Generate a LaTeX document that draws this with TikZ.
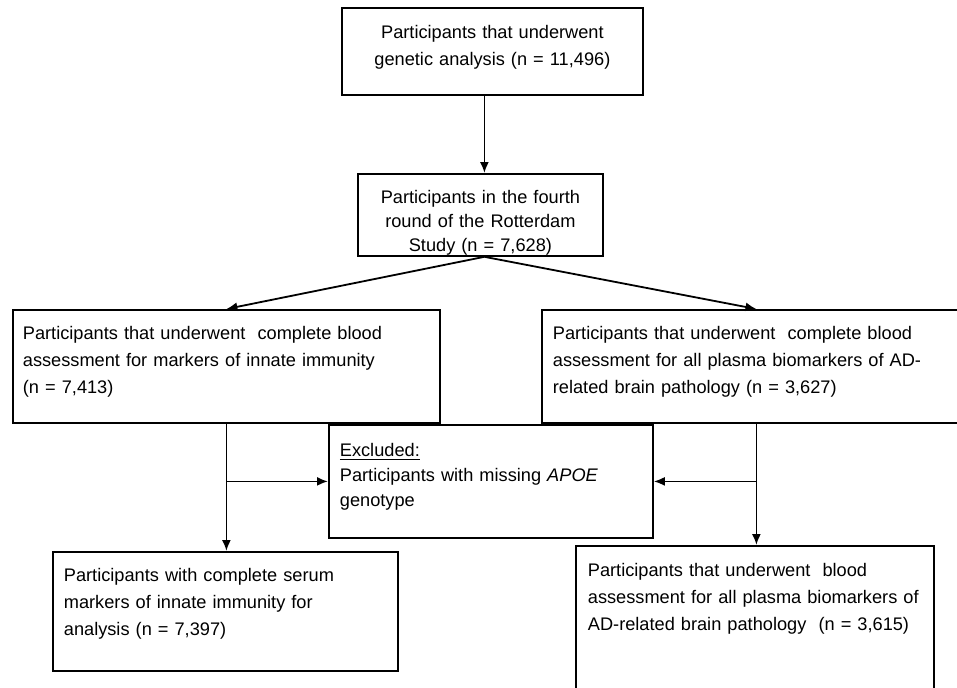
\documentclass[tikz,border=0pt]{standalone}
\usepackage{fontspec}
\setmainfont{Liberation Sans}
\usetikzlibrary{arrows.meta}

\begin{document}
\begin{tikzpicture}[x=0.5pt,y=-0.5pt,>={Latex[length=5.5pt,width=4.5pt]},
    flowbox/.style={draw,line width=0.9pt,anchor=north west,inner ysep=0pt,
      font=\fontsize{9.1}{13.4}\selectfont},
    flowline/.style={line width=0.9pt}]
    \useasboundingbox (0,0) rectangle (957,687);
    \clip (0,0) rectangle (957,687);
    % boxes
    \node[flowbox,align=center,text width=150.5pt,inner xsep=0pt,
      text height=15.5pt,text depth=28pt] (genetic) at (341,7)
      {Participants that underwent\\genetic analysis (n = 11,496)};
    \node[flowbox,align=center,text width=122.5pt,inner xsep=0pt,
      text height=15pt,text depth=26pt,font=\fontsize{9.1}{11.9}\selectfont]
      (rotterdam) at (357,173)
      {Participants in the fourth\\round of the Rotterdam\\Study (n = 7,628)};
    \node[flowbox,align=left,text width=203.5pt,inner xsep=5pt,
      text height=15pt,text depth=41.5pt] (innate) at (12,309)
      {Participants that underwent\ \ complete blood\\assessment for markers of innate immunity\\(n = 7,413)};
    \node[flowbox,align=left,text width=203.5pt,inner xsep=5.5pt,
      text height=15pt,text depth=41.5pt] (plasma) at (541,309)
      {Participants that underwent\ \ complete blood\\assessment for all plasma biomarkers of AD-\\related brain pathology (n = 3,627)};
    \node[flowbox,align=left,text width=151pt,inner xsep=5.5pt,
      text height=16pt,text depth=40.5pt,font=\fontsize{9.1}{12.5}\selectfont]
      (excluded) at (328,424)
      {\underline{Excluded:}\\Participants with missing \textit{APOE}\\genotype};
    \node[flowbox,align=left,text width=161.5pt,inner xsep=5.5pt,
      text height=15pt,text depth=44.5pt] (serum) at (52,551)
      {Participants with complete serum\\markers of innate immunity for\\analysis (n = 7,397)};
    \node[flowbox,align=left,text width=167pt,inner xsep=6pt,
      text height=15.5pt,text depth=62pt] (final) at (575,545)
      {Participants that underwent\ \ blood\\assessment for all plasma biomarkers of\\AD-related brain pathology\ \ (n = 3,615)};
    % arrows
    \draw[flowline,->] ([xshift=2pt]genetic.south -| rotterdam.north) -- ([xshift=2pt]rotterdam.north);
    \draw[flowline,->] ([xshift=2pt]rotterdam.south) -- (innate.north);
    \draw[flowline,->] ([xshift=2pt]rotterdam.south) -- (plasma.north);
    \draw[flowline,->] (innate.south) -- (innate.south |- serum.north);
    \draw[flowline,->] (innate.south |- excluded.west) -- (excluded.west);
    \draw[flowline,->] (plasma.south) -- (plasma.south |- final.north);
    \draw[flowline,->] (plasma.south |- excluded.east) -- (excluded.east);
\end{tikzpicture}
\end{document}
